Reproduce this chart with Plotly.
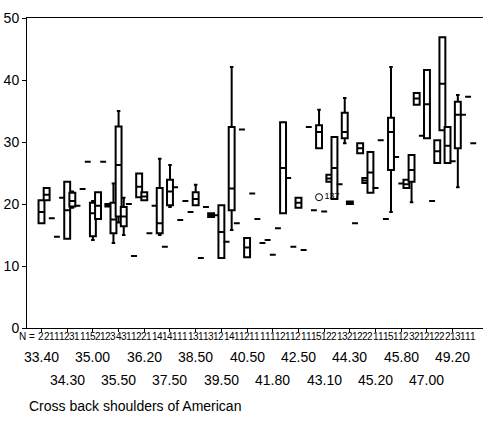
import plotly.graph_objects as go

# ---- data ----
tick_labels = ["33.40", "34.30", "35.00", "35.50", "36.20", "37.50", "38.50", "39.50",
               "40.50", "41.80", "42.50", "43.10", "44.30", "45.20", "45.80", "47.00", "49.20"]
label_step = 5

n_counts = [2, 2, 1, 1, 1, 2, 3, 1, 1, 1, 5, 2, 1, 2, 3, 4,
            3, 1, 1, 2, 2, 1, 1, 4, 1, 4, 1, 1, 1, 1, 3, 1, 1, 3, 1, 2, 1, 4, 1,
            1, 2, 1, 1, 1, 1, 1, 1, 2, 1, 1, 2, 1, 1, 1, 5, 1, 2, 2, 1, 3, 2, 1,
            2, 2, 2, 1, 1, 1, 5, 1, 1, 2, 3, 2, 1, 2, 1, 2, 2, 2, 1, 3, 1, 1, 1]

lower = [16.9, 20.6, 17.7, 14.7, 21.0, 14.4, 19.4, 19.7, 22.4, 26.8,
         14.2, 17.6, 26.8, 19.6, 13.7, 17.0, 15.0, 20.0, 11.6, 21.1,
         20.6, 15.3, 19.7, 15.0, 13.1, 19.5, 22.7, 17.4, 20.5, 18.7,
         19.8, 11.3, 19.5, 17.9, 18.2, 11.3, 13.9, 15.8, 16.9, 32.0,
         11.4, 21.7, 17.6, 13.7, 14.2, 11.8, 16.1, 18.5, 24.2, 13.1,
         19.4, 12.6, 32.4, 19.0, 29.0, 18.8, 23.6, 20.8, 23.2, 29.8,
         20.0, 16.9, 28.2, 23.4, 21.8, 22.6, 30.3, 17.6, 18.7, 27.6,
         23.3, 22.6, 20.3, 36.0, 31.0, 30.6, 20.5, 26.6, 31.9, 26.6,
         26.9, 22.7, 34.4, 37.3, 29.8]
q1 = [16.9, 20.6, 17.7, 14.7, 21.0, 14.4, 19.6, 19.7, 22.4, 26.8,
      14.8, 17.6, 26.8, 19.6, 15.3, 18.0, 16.4, 20.0, 11.6, 21.1,
      20.6, 15.3, 19.7, 15.3, 13.1, 19.8, 22.7, 17.4, 20.5, 18.7,
      19.8, 11.3, 19.5, 17.9, 18.2, 11.3, 13.9, 19.0, 16.9, 32.0,
      11.4, 21.7, 17.6, 13.7, 14.2, 11.8, 16.1, 18.5, 24.2, 13.1,
      19.4, 12.6, 32.4, 19.0, 29.0, 18.8, 23.6, 20.8, 23.2, 30.6,
      20.0, 16.9, 28.2, 23.4, 21.8, 22.6, 30.3, 17.6, 25.5, 27.6,
      23.3, 22.6, 23.6, 36.0, 31.0, 30.6, 20.5, 26.6, 31.9, 26.6,
      26.9, 29.0, 34.4, 37.3, 29.8]
median = [18.7, 21.5, 17.7, 14.7, 21.0, 19.0, 20.5, 19.7, 22.4, 26.8,
          18.5, 19.7, 26.8, 19.8, 17.5, 26.3, 18.0, 20.0, 11.6, 22.8,
          21.2, 15.3, 19.7, 16.9, 13.1, 22.0, 22.7, 17.4, 20.5, 18.7,
          20.8, 11.3, 19.5, 18.2, 18.2, 15.5, 13.9, 22.5, 16.9, 32.0,
          13.0, 21.7, 17.6, 13.7, 14.2, 11.8, 16.1, 25.8, 24.2, 13.1,
          20.2, 12.6, 32.4, 19.0, 31.6, 18.8, 24.1, 25.8, 23.2, 31.6,
          20.2, 16.9, 29.0, 23.8, 25.1, 22.6, 30.3, 17.6, 31.6, 27.6,
          23.3, 23.2, 25.5, 37.0, 31.0, 36.1, 20.5, 28.5, 39.4, 29.4,
          26.9, 34.4, 34.4, 37.3, 29.8]
q3 = [20.6, 22.6, 17.7, 14.7, 21.0, 23.6, 21.8, 19.7, 22.4, 26.8,
      20.2, 21.9, 26.8, 20.0, 20.2, 32.5, 19.5, 20.0, 11.6, 24.9,
      21.9, 15.3, 19.7, 22.6, 13.1, 23.9, 22.7, 17.4, 20.5, 18.7,
      21.9, 11.3, 19.5, 18.5, 18.2, 19.8, 13.9, 32.4, 16.9, 32.0,
      14.5, 21.7, 17.6, 13.7, 14.2, 11.8, 16.1, 33.2, 24.2, 13.1,
      21.0, 12.6, 32.4, 19.0, 32.7, 18.8, 24.7, 30.8, 23.2, 34.7,
      20.4, 16.9, 29.8, 24.2, 28.4, 22.6, 30.3, 17.6, 33.9, 27.6,
      23.3, 23.9, 27.9, 37.9, 31.0, 41.6, 20.5, 30.3, 46.9, 32.4,
      26.9, 36.5, 34.4, 37.3, 29.8]
upper = [20.6, 22.6, 17.7, 14.7, 21.0, 23.6, 22.0, 19.7, 22.4, 26.8,
         20.5, 21.9, 26.8, 20.0, 23.3, 35.0, 21.0, 20.0, 11.6, 24.9,
         21.9, 15.3, 19.7, 27.3, 13.1, 26.3, 22.7, 17.4, 20.5, 18.7,
         23.1, 11.3, 19.5, 18.5, 18.2, 19.8, 13.9, 42.1, 16.9, 32.0,
         14.5, 21.7, 17.6, 13.7, 14.2, 11.8, 16.1, 33.2, 24.2, 13.1,
         21.0, 12.6, 32.4, 19.0, 35.2, 18.8, 24.7, 30.8, 23.2, 37.1,
         20.4, 16.9, 29.8, 24.2, 28.4, 22.6, 30.3, 17.6, 42.1, 27.6,
         23.3, 23.9, 27.9, 37.9, 31.0, 41.6, 20.5, 30.3, 46.9, 32.4,
         26.9, 37.6, 34.4, 37.3, 29.8]

outlier_cat = [54]
outlier_val = [21.1]
outlier_id = ["137"]

title_text = "Cross back shoulders of American"

# ---- figure ----
idx = list(range(len(n_counts)))
label_idx = [k * label_step for k in range(len(tick_labels))]

fig = go.Figure()
fig.add_trace(go.Box(
    x=idx, q1=q1, median=median, q3=q3, lowerfence=lower, upperfence=upper,
    width=1.15, fillcolor="white", line=dict(color="black", width=2),
    whiskerwidth=0.6, boxpoints=False, hoverinfo="skip", showlegend=False))
fig.add_trace(go.Scatter(
    x=outlier_cat, y=outlier_val, mode="markers+text", text=outlier_id,
    textposition="middle right", textfont=dict(size=9, color="black", family="Liberation Sans"),
    marker=dict(symbol="circle-open", size=7, color="black", line=dict(width=1)),
    showlegend=False, hoverinfo="skip"))

ann = []
for i, n in zip(idx, n_counts):
    ann.append(dict(x=i, y=0, xref="x", yref="paper", text=str(n), showarrow=False,
                    yanchor="middle", yshift=-8,
                    font=dict(size=10, color="black", family="Liberation Sans Narrow, Liberation Sans")))
ann.append(dict(x=0, y=0, xref="paper", yref="paper", text="N =", showarrow=False,
                xanchor="center", yanchor="middle", yshift=-8,
                font=dict(size=10, color="black", family="Liberation Sans Narrow, Liberation Sans")))
for k, (i, lab) in enumerate(zip(label_idx, tick_labels)):
    ann.append(dict(x=i, y=0, xref="x", yref="paper", text=lab, showarrow=False,
                    yanchor="middle", yshift=-29 if k % 2 == 0 else -52,
                    font=dict(size=14, color="black", family="Liberation Sans")))
ann.append(dict(x=0, y=0, xref="paper", yref="paper", text=title_text, showarrow=False,
                xanchor="left", yanchor="middle", yshift=-78,
                font=dict(size=14, color="black", family="Liberation Sans")))

fig.update_layout(
    width=483, height=428,
    margin=dict(l=27, r=0, t=18, b=100),
    paper_bgcolor="white", plot_bgcolor="white",
    annotations=ann,
    xaxis=dict(range=[-2.82, 85.9], tickvals=label_idx, showticklabels=False,
               ticks="outside", ticklen=3, tickcolor="black",
               showline=True, linecolor="black", linewidth=1, mirror=True,
               showgrid=False, zeroline=False),
    yaxis=dict(range=[0, 50], tickvals=[0, 10, 20, 30, 40, 50],
               ticks="outside", ticklen=4, tickcolor="black",
               showline=True, linecolor="black", linewidth=1,
               showgrid=False, zeroline=False,
               tickfont=dict(size=14, color="black", family="Liberation Sans")),
)

fig.write_html("out.html")
